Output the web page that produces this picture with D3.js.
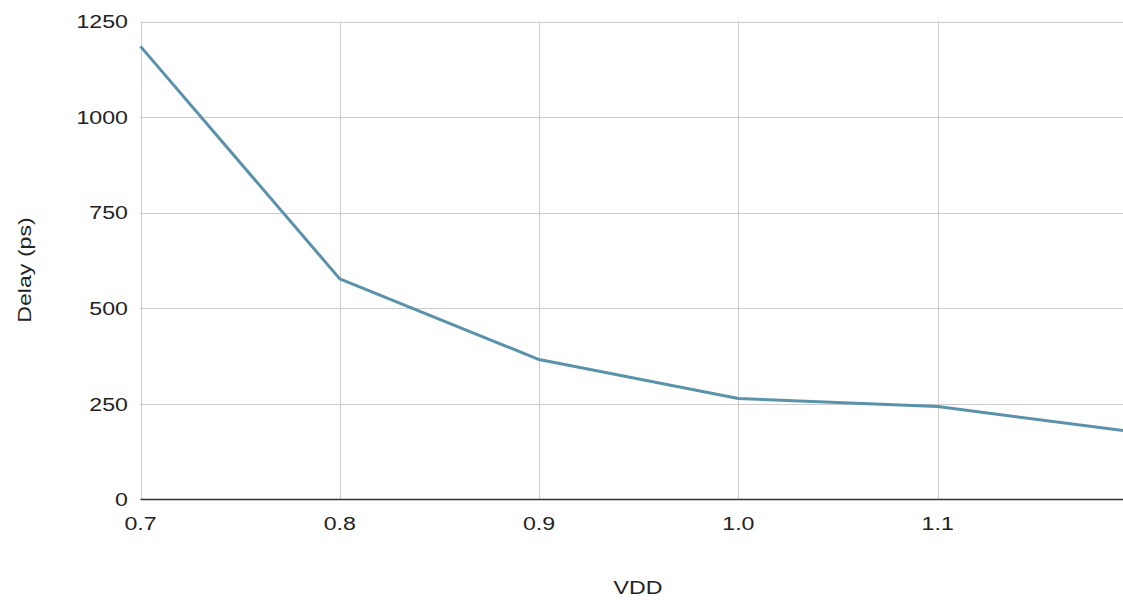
<!DOCTYPE html>
<html>
<head>
<meta charset="utf-8">
<script src="https://cdn.jsdelivr.net/npm/d3@7"></script>
<style>
  html, body { margin: 0; padding: 0; background: #fff; }
  svg { display: block; }
  text { font-family: "Liberation Sans", Arial, sans-serif; fill: #222; }
</style>
</head>
<body>
<svg id="chart" width="1123" height="600"></svg>
<script>
const vdd = [0.7, 0.8, 0.9, 1.0, 1.1, 1.2];
const delayPs = [1185, 577, 366, 264, 243, 176];
const xTicks = [0.7, 0.8, 0.9, 1.0, 1.1];
const yTicks = [0, 250, 500, 750, 1000, 1250];
const xTitle = "VDD";
const yTitle = "Delay (ps)";

const W = 1123, H = 600;
const svg = d3.select("#chart");
const fs = 19, sx = 1.22;

const x = d3.scaleLinear().domain([0.7, 1.2]).range([140.5, 1137]);
const y = d3.scaleLinear().domain([0, 1250]).range([499.5, 21.5]);

const plotRight = W;

// gridlines
svg.append("g").selectAll("line").data(yTicks.filter(d => d > 0)).join("line")
  .attr("x1", x(0.7)).attr("x2", plotRight)
  .attr("y1", d => Math.round(y(d)) + 0.5).attr("y2", d => Math.round(y(d)) + 0.5)
  .attr("stroke", "#cccccc").attr("stroke-width", 1);
svg.append("g").selectAll("line").data(xTicks).join("line")
  .attr("x1", d => Math.round(x(d)) + 0.5).attr("x2", d => Math.round(x(d)) + 0.5)
  .attr("y1", y(1250)).attr("y2", y(0))
  .attr("stroke", "#cccccc").attr("stroke-width", 1);

// data line
const clip = svg.append("clipPath").attr("id", "clip").append("rect")
  .attr("x", x(0.7) - 2).attr("y", 0).attr("width", plotRight - x(0.7) + 2).attr("height", H);
const line = d3.line().x((d, i) => x(vdd[i])).y(d => y(d));
svg.append("path").datum(delayPs)
  .attr("clip-path", "url(#clip)")
  .attr("d", line)
  .attr("fill", "none")
  .attr("stroke", "#5a92ab")
  .attr("stroke-width", 3)
  .attr("stroke-linejoin", "round");

// baseline axis
svg.append("line")
  .attr("x1", x(0.7)).attr("x2", plotRight)
  .attr("y1", y(0)).attr("y2", y(0))
  .attr("stroke", "#333").attr("stroke-width", 1.5);

// y tick labels
svg.append("g").selectAll("text").data(yTicks).join("text")
  .attr("transform", d => `translate(128,${y(d)}) scale(${sx},1)`)
  .attr("dy", "0.35em")
  .attr("text-anchor", "end")
  .style("font-size", fs + "px")
  .text(d => d);

// x tick labels
const fmt = d3.format(".1f");
svg.append("g").selectAll("text").data(xTicks).join("text")
  .attr("transform", d => `translate(${x(d)},530) scale(${sx},1)`)
  .attr("text-anchor", "middle")
  .style("font-size", fs + "px")
  .text(d => fmt(d));

// axis titles
svg.append("text")
  .attr("transform", `translate(638,594) scale(${sx},1)`)
  .attr("text-anchor", "middle")
  .style("font-size", fs + "px")
  .text(xTitle);

svg.append("text")
  .attr("transform", `translate(31,270) rotate(-90) scale(${sx},1)`)
  .attr("text-anchor", "middle")
  .style("font-size", fs + "px")
  .text(yTitle);
</script>
</body>
</html>
